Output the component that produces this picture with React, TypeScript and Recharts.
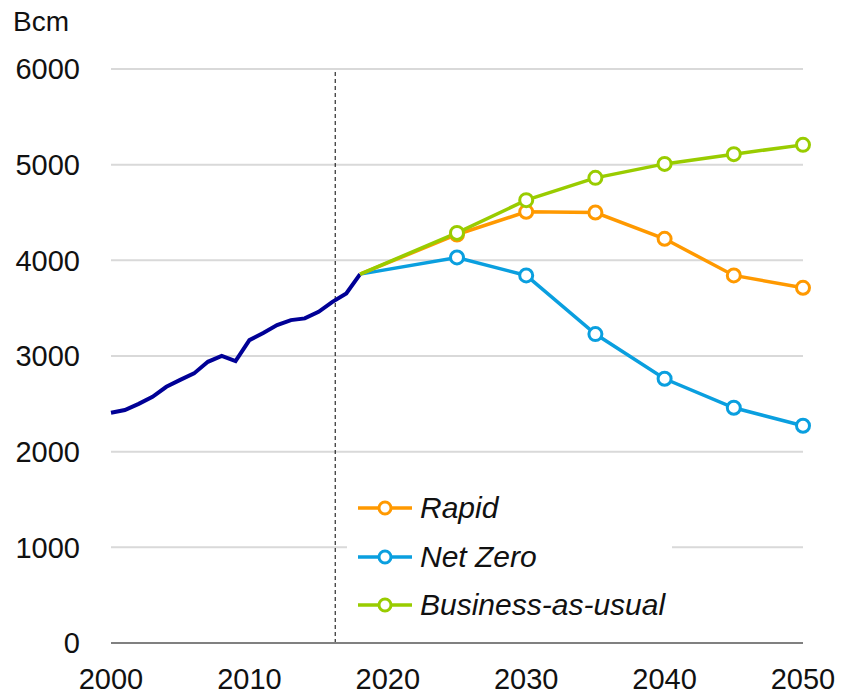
import { LineChart, Line, XAxis, YAxis, CartesianGrid, ReferenceLine, Legend } from 'recharts'

const historyYears = [2000, 2001, 2002, 2003, 2004, 2005, 2006, 2007, 2008, 2009, 2010, 2011, 2012, 2013, 2014, 2015, 2016, 2017, 2018]
const historyValues = [2407, 2435, 2500, 2574, 2678, 2750, 2818, 2939, 3002, 2947, 3166, 3240, 3323, 3375, 3393, 3462, 3566, 3654, 3856]

const scenarioYears = [2018, 2025, 2030, 2035, 2040, 2045, 2050]
const rapidValues = [3856, 4270, 4507, 4500, 4225, 3842, 3713]
const netZeroValues = [3856, 4030, 3842, 3229, 2762, 2459, 2271]
const bauValues = [3856, 4287, 4629, 4862, 5008, 5110, 5207]

const xTicks = [2000, 2010, 2020, 2030, 2040, 2050]
const yTicks = [0, 1000, 2000, 3000, 4000, 5000, 6000]
const outlookStart = 2016.2

const colors = {
  history: '#000096',
  rapid: '#ff9900',
  netZero: '#0a9fdf',
  bau: '#99cc00',
}

const legendItems = [
  { name: 'Rapid', color: colors.rapid },
  { name: 'Net Zero', color: colors.netZero },
  { name: 'Business-as-usual', color: colors.bau },
]

const font = '"Liberation Sans", Arial, sans-serif'

// one row per year, scenarios join the history at 2018
const data = [
  ...historyYears.map((year, i) => ({
    year,
    history: historyValues[i],
    rapid: year === 2018 ? rapidValues[0] : undefined,
    netZero: year === 2018 ? netZeroValues[0] : undefined,
    bau: year === 2018 ? bauValues[0] : undefined,
  })),
  ...scenarioYears.slice(1).map((year, i) => ({
    year,
    history: undefined,
    rapid: rapidValues[i + 1],
    netZero: netZeroValues[i + 1],
    bau: bauValues[i + 1],
  })),
]

const makeDot = (color: string) => (props: any) => {
  const { cx, cy, payload, index } = props
  if (payload.year < 2020 || cx == null || cy == null) return <g key={`d-${index}`} />
  return (
    <circle
      key={`d-${index}`}
      cx={cx}
      cy={cy}
      r={6.5}
      fill="#fff"
      stroke={color}
      strokeWidth={3}
    />
  )
}

const LegendContent = () => (
  <div style={{ background: '#fff', paddingLeft: 11, fontFamily: font, fontStyle: 'italic', fontSize: 30, color: '#111' }}>
    {legendItems.map((item) => (
      <div key={item.name} style={{ display: 'flex', alignItems: 'center', height: 48.5 }}>
        <svg width={54} height={20}>
          <line x1={0} y1={10} x2={54} y2={10} stroke={item.color} strokeWidth={3.5} />
          <circle cx={27} cy={10} r={6} fill="#fff" stroke={item.color} strokeWidth={3} />
        </svg>
        <span style={{ marginLeft: 8 }}>{item.name}</span>
      </div>
    ))}
  </div>
)

export default function App() {
  return (
    <div style={{ position: 'absolute', left: 0, top: 0, width: 841, height: 697, background: '#fff' }}>
      <div style={{ position: 'absolute', left: 13, top: 6, fontFamily: font, fontSize: 28, color: '#111' }}>Bcm</div>
      <LineChart width={841} height={697} data={data} margin={{ top: 69, right: 38, bottom: 0, left: 0 }}>
        <CartesianGrid vertical={false} stroke="#d9d9d9" strokeWidth={2} />
        <XAxis
          dataKey="year"
          type="number"
          domain={[2000, 2050]}
          ticks={xTicks}
          height={54}
          tickLine={false}
          tickSize={0}
          tickMargin={25}
          axisLine={{ stroke: '#808080', strokeWidth: 2 }}
          tick={{ fill: '#111', fontSize: 29, fontFamily: font }}
        />
        <YAxis
          type="number"
          domain={[0, 6000]}
          ticks={yTicks}
          width={111}
          tickLine={false}
          tickSize={0}
          tickMargin={31}
          axisLine={false}
          tick={{ fill: '#111', fontSize: 29, fontFamily: font }}
        />
        <ReferenceLine x={outlookStart} stroke="#000" strokeDasharray="4 3" strokeWidth={1} />
        <Line dataKey="history" stroke={colors.history} strokeWidth={4} dot={false} isAnimationActive={false} />
        <Line dataKey="netZero" stroke={colors.netZero} strokeWidth={3.5} dot={makeDot(colors.netZero)} activeDot={false} isAnimationActive={false} />
        <Line dataKey="rapid" stroke={colors.rapid} strokeWidth={3.5} dot={makeDot(colors.rapid)} activeDot={false} isAnimationActive={false} />
        <Line dataKey="bau" stroke={colors.bau} strokeWidth={3.5} dot={makeDot(colors.bau)} activeDot={false} isAnimationActive={false} />
        <Legend
          layout="vertical"
          align="center"
          verticalAlign="middle"
          content={LegendContent}
          wrapperStyle={{ left: 347, top: 484, width: 325 }}
        />
      </LineChart>
    </div>
  )
}
